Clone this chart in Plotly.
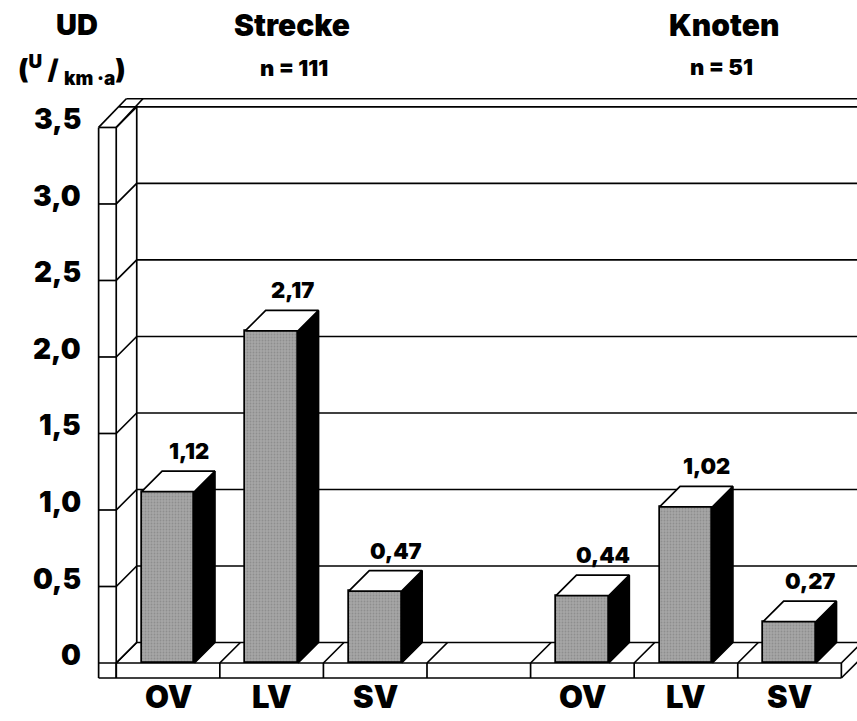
import plotly.graph_objects as go

# ---- data -------------------------------------------------------------
groups = ["Strecke", "Knoten"]
group_n = [111, 51]
categories = ["OV", "LV", "SV"]
strecke_values = [1.12, 2.17, 0.47]
knoten_values = [0.44, 1.02, 0.27]
y_ticks = [0.0, 0.5, 1.0, 1.5, 2.0, 2.5, 3.0, 3.5]
y_title = "UD"
y_unit = "(<sup>U</sup> / <sub>km ·a</sub>)"

# slot positions on the x axis: three bars per group, one empty slot between
strecke_slots = [0, 1, 2]
knoten_slots = [4, 5, 6]
n_slots = 7

# ---- pseudo-3D geometry (axis units) -----------------------------------
DX, DY = 0.198, 0.134          # depth offset of the box
BAR_W = 0.51
WALL_L, WALL_R = -0.67, -0.5   # front face of the left wall slab
FLOOR_T = 0.098                # thickness of the floor slab
X_RANGE = [-1.622, 6.651]
Y_RANGE = [-0.379, 4.333]
X_END = X_RANGE[1] + 1
Y_TOP = max(y_ticks)

LINE = dict(color="black", width=1.7)
GRAY = "#a6a6a6"
HEAVY = "Inter"

fig = go.Figure()
shapes = []


def seg(x0, y0, x1, y1, width=1.7):
    shapes.append(dict(type="line", xref="x", yref="y", x0=x0, y0=y0,
                       x1=x1, y1=y1, layer="below",
                       line=dict(color="black", width=width)))


# back wall grid lines and the wall slab ticks
for t in y_ticks:
    seg(WALL_R, t, WALL_R + DX, t + DY)
    x_start = WALL_L + DX if t == Y_TOP else WALL_R + DX
    seg(x_start, t + DY, X_END, t + DY)
    if t > 0:
        seg(WALL_L, t, WALL_R, t)

# wall slab verticals
seg(WALL_L, -FLOOR_T, WALL_L, Y_TOP)
seg(WALL_R, -FLOOR_T, WALL_R, Y_TOP)
seg(WALL_R + DX, DY, WALL_R + DX, Y_TOP + DY)

# top edge of the wall
top_y = Y_TOP + DY * 1.4
seg(WALL_L, Y_TOP, WALL_L + DX * 1.35, top_y)
seg(WALL_R, Y_TOP, WALL_R + DX * 1.3, top_y)
seg(WALL_L + DX * 1.35, top_y, X_END, top_y)

# floor slab
floor_r = n_slots - 0.5
seg(WALL_L, 0, floor_r, 0)
seg(WALL_L, -FLOOR_T, floor_r, -FLOOR_T)
for k in range(n_slots + 1):
    xd = -0.5 + k
    seg(xd, -FLOOR_T, xd, 0)
    seg(xd, 0, xd + DX, DY)
seg(floor_r, -FLOOR_T, floor_r + DX, -FLOOR_T + DY)
seg(floor_r + DX, -FLOOR_T + DY, floor_r + DX, DY)

# ---- bars ---------------------------------------------------------------
slots = strecke_slots + knoten_slots
values = strecke_values + knoten_values
labels = categories + categories

fig.add_trace(go.Bar(
    x=slots, y=values, width=BAR_W,
    marker=dict(color=GRAY, line=LINE,
                pattern=dict(shape=".", fgcolor="#767676", bgcolor=GRAY,
                             size=3, solidity=0.3)),
    hoverinfo="skip", showlegend=False,
))

# top and side faces of each bar, derived from the bar value
for s, v in zip(slots, values):
    x0, x1 = s - BAR_W / 2, s + BAR_W / 2
    fig.add_trace(go.Scatter(
        x=[x1, x1, x1 + DX, x1 + DX, x1],
        y=[0, v, v + DY, DY, 0],
        mode="lines", fill="toself", fillcolor="black",
        line=LINE, hoverinfo="skip", showlegend=False))
    fig.add_trace(go.Scatter(
        x=[x0, x1, x1 + DX, x0 + DX, x0],
        y=[v, v, v + DY, v + DY, v],
        mode="lines", fill="toself", fillcolor="white",
        line=LINE, hoverinfo="skip", showlegend=False))

annotations = []

# value labels above the bars
for s, v in zip(slots, values):
    annotations.append(dict(
        x=s + DX, y=v + DY, xref="x", yref="y", yshift=20,
        xanchor="center", yanchor="middle",
        text=f"{v:.2f}".replace(".", ","), showarrow=False,
        font=dict(family=HEAVY, size=22, color="black", weight=900)))

# category labels under the floor
for s, lab in zip(slots, labels):
    annotations.append(dict(
        x=s, y=-0.216, xref="x", yref="y", text=lab, showarrow=False,
        xanchor="center", yanchor="middle",
        font=dict(family=HEAVY, size=31, color="black", weight=900)))

# y tick labels on the wall
for t in y_ticks:
    txt = "0" if t == 0 else f"{t:.1f}".replace(".", ",")
    annotations.append(dict(
        x=-0.82, y=t, xref="x", yref="y", xanchor="right", yanchor="middle",
        yshift=8, text=txt, showarrow=False,
        font=dict(family=HEAVY, size=28, color="black", weight=900)))

# headers
W, H = 857, 721


def header(text, px, py, size):
    annotations.append(dict(
        x=px / W, y=1 - py / H, xref="paper", yref="paper",
        xanchor="center", yanchor="middle",
        text=text, showarrow=False,
        font=dict(family=HEAVY, size=size, color="black", weight=900)))


header(y_title, 77, 25, 29)
header(y_unit, 72, 70, 27)
header(groups[0], 292, 25, 30)
header(f"n = {group_n[0]}", 294, 68, 22)
header(groups[1], 724, 25, 30)
header(f"n = {group_n[1]}", 721, 67, 22)

fig.update_layout(
    width=W, height=H, autosize=False,
    margin=dict(l=0, r=0, t=0, b=0),
    paper_bgcolor="white", plot_bgcolor="white",
    showlegend=False,
    xaxis=dict(range=X_RANGE, visible=False, fixedrange=True),
    yaxis=dict(range=Y_RANGE, visible=False, fixedrange=True),
    shapes=shapes, annotations=annotations,
    bargap=0,
)

fig.write_html("out.html")
